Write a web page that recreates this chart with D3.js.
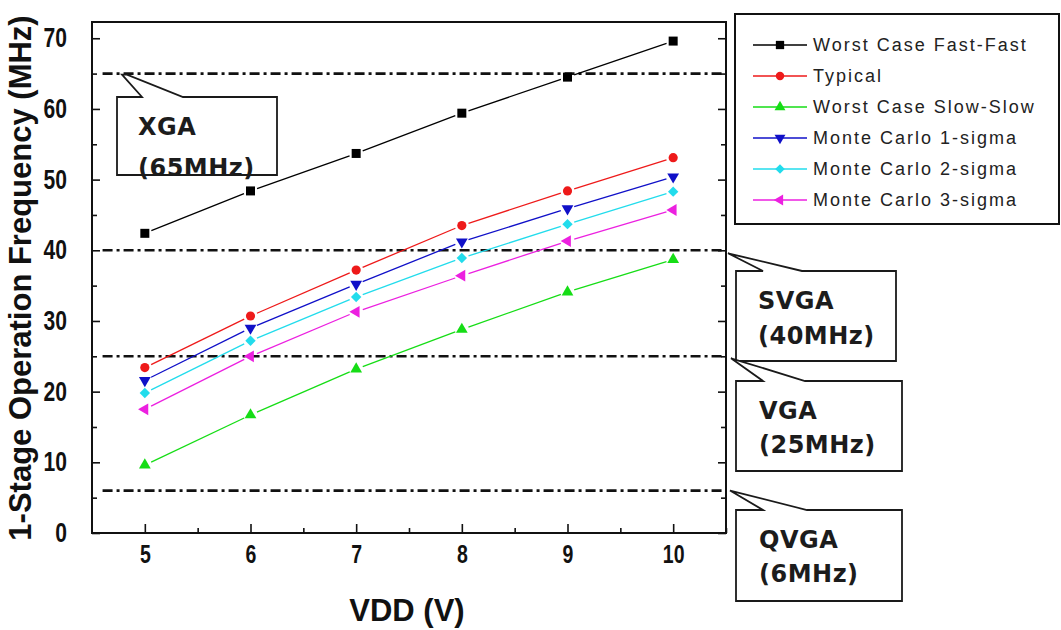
<!DOCTYPE html>
<html>
<head>
<meta charset="utf-8">
<script src="https://cdn.jsdelivr.net/npm/d3@7"></script>
<style>
  html, body { margin: 0; padding: 0; background: #fff; }
  svg { display: block; }
</style>
</head>
<body>
<svg id="chart" width="1061" height="630"></svg>
<script>
// Supply voltage sweep
const vdd = [5, 6, 7, 8, 9, 10];

// One-stage operation frequency (MHz) for each process corner
const fastFast = [42.4, 48.4, 53.7, 59.4, 64.5, 69.6];
const typical  = [23.4, 30.7, 37.2, 43.5, 48.4, 53.1];
const slowSlow = [9.6, 16.7, 23.2, 28.8, 34.1, 38.7];
const mc1Sigma = [21.6, 29.0, 35.2, 41.2, 45.9, 50.4];
const mc2Sigma = [19.8, 27.2, 33.4, 38.9, 43.7, 48.3];
const mc3Sigma = [17.5, 25.0, 31.3, 36.4, 41.3, 45.7];

const seriesNames = [
  "Worst Case Fast-Fast",
  "Typical",
  "Worst Case Slow-Slow",
  "Monte Carlo 1-sigma",
  "Monte Carlo 2-sigma",
  "Monte Carlo 3-sigma"
];
const seriesValues = [fastFast, typical, slowSlow, mc1Sigma, mc2Sigma, mc3Sigma];

// Display-format requirements
const formatNames = ["XGA", "SVGA", "VGA", "QVGA"];
const formatFreq  = [65, 40, 25, 6];
const formatNotes = ["(65MHz)", "(40MHz)", "(25MHz)", "(6MHz)"];

// Axis ticks
const xTicks = [5, 6, 7, 8, 9, 10];
const xMinor = [5.5, 6.5, 7.5, 8.5, 9.5, 10.5];
const yTicks = [0, 10, 20, 30, 40, 50, 60, 70];
const yMinor = [5, 15, 25, 35, 45, 55, 65];

// ---- styling ----
const colors = ["#000000", "#ee1a1a", "#16dd16", "#1010c8", "#22dcec", "#ec20e0"];
const shapes = ["square", "circle", "up", "down", "diamond", "left"];

const svg = d3.select("#chart");
const plot = { left: 92, right: 726, top: 22, bottom: 533 };

const x = d3.scaleLinear().domain([4.5, 10.5]).range([plot.left, plot.right]);
const y = d3.scaleLinear().domain([0, 72.3]).range([plot.bottom, plot.top]);

function symbolPath(shape, scale) {
  const s = scale || 1;
  switch (shape) {
    case "square":  return { d: d3.symbol(d3.symbolSquare, 81 * s)(), rot: 0 };
    case "circle":  return { d: d3.symbol(d3.symbolCircle, 66 * s)(), rot: 0 };
    case "up":      return { d: d3.symbol(d3.symbolTriangle, 60 * s)(), rot: 0 };
    case "down":    return { d: d3.symbol(d3.symbolTriangle, 60 * s)(), rot: 180 };
    case "left":    return { d: d3.symbol(d3.symbolTriangle, 60 * s)(), rot: -90 };
    case "diamond": return { d: d3.symbol(d3.symbolSquare, 54 * s)(), rot: 45 };
  }
}

// ---- frame & axes ----
const axisFont = "'Liberation Sans', Arial, sans-serif";

svg.append("rect")
  .attr("x", plot.left).attr("y", plot.top)
  .attr("width", plot.right - plot.left).attr("height", plot.bottom - plot.top)
  .attr("fill", "none").attr("stroke", "#111").attr("stroke-width", 2);

const gx = svg.append("g").attr("transform", `translate(0,${plot.bottom})`)
  .call(d3.axisBottom(x).tickValues(xTicks).tickSize(-9).tickPadding(12).tickFormat(d3.format("d")));
gx.selectAll("text")
  .attr("font-family", axisFont).attr("font-weight", "bold").attr("font-size", 25).attr("fill", "#111")
  .attr("transform", "scale(0.78,1)");

const gxm = svg.append("g").attr("transform", `translate(0,${plot.bottom})`)
  .call(d3.axisBottom(x).tickValues(xMinor).tickSize(-5).tickFormat(""));

const gy = svg.append("g").attr("transform", `translate(${plot.left},0)`)
  .call(d3.axisLeft(y).tickValues(yTicks).tickSize(-8).tickPadding(25).tickFormat(d3.format("d")));
gy.selectAll("text")
  .attr("font-family", axisFont).attr("font-weight", "bold").attr("font-size", 27).attr("fill", "#111")
  .attr("x", 0).attr("transform", "translate(-25,0) scale(0.78,1)");

const gym = svg.append("g").attr("transform", `translate(${plot.left},0)`)
  .call(d3.axisLeft(y).tickValues(yMinor).tickSize(-5).tickFormat(""));

const gr = svg.append("g").attr("transform", `translate(${plot.right},0)`)
  .call(d3.axisRight(y).tickValues(yTicks).tickSize(-8).tickFormat(""));
const grm = svg.append("g").attr("transform", `translate(${plot.right},0)`)
  .call(d3.axisRight(y).tickValues(yMinor).tickSize(-5).tickFormat(""));

[gx, gxm, gy, gym, gr, grm].forEach(g => {
  g.select(".domain").remove();
  g.selectAll(".tick line").attr("stroke", "#111").attr("stroke-width", 1.6);
});

// axis titles
svg.append("text")
  .attr("x", (plot.left + plot.right) / 2 - 2).attr("y", 621)
  .attr("text-anchor", "middle")
  .attr("font-family", "'Liberation Sans', Arial, sans-serif")
  .attr("font-weight", "bold").attr("font-size", 31).attr("fill", "#111")
  .text("VDD (V)");

svg.append("text")
  .attr("transform", "translate(31,278) rotate(-90)")
  .attr("text-anchor", "middle")
  .attr("font-family", "'Liberation Sans', Arial, sans-serif")
  .attr("font-weight", "bold").attr("font-size", 31).attr("fill", "#111")
  .text("1-Stage Operation Frequency (MHz)");

// ---- format reference lines (dash-dot) ----
const refG = svg.append("g");
formatFreq.forEach(f => {
  refG.append("line")
    .attr("x1", x(4.6)).attr("x2", x(10.5))
    .attr("y1", y(f)).attr("y2", y(f))
    .attr("stroke", "#111").attr("stroke-width", 2.6)
    .attr("stroke-dasharray", "10,4,3,4");
});

// ---- data series ----
const gap = 7;
seriesValues.forEach((vals, si) => {
  const g = svg.append("g");
  const pts = vdd.map((v, i) => [x(v), y(vals[i])]);
  // connecting segments, shortened near each marker
  for (let i = 0; i < pts.length - 1; i++) {
    const [x0, y0] = pts[i], [x1, y1] = pts[i + 1];
    const len = Math.hypot(x1 - x0, y1 - y0);
    const ux = (x1 - x0) / len, uy = (y1 - y0) / len;
    g.append("line")
      .attr("x1", x0 + ux * gap).attr("y1", y0 + uy * gap)
      .attr("x2", x1 - ux * gap).attr("y2", y1 - uy * gap)
      .attr("stroke", colors[si]).attr("stroke-width", 1.3);
  }
  const sym = symbolPath(shapes[si]);
  g.selectAll("path").data(pts).join("path")
    .attr("d", sym.d)
    .attr("transform", d => `translate(${d[0]},${d[1]}) rotate(${sym.rot})`)
    .attr("fill", colors[si]);
});

// ---- callouts ----
const calloutFont = "'DejaVu Sans', Verdana, sans-serif";
const callouts = [
  { box: [117, 97, 277, 175], base: [142, 183], tipDx: [122, 127], tipOff: 1, tx: 138, b1: 38, b2: 79 },
  { box: [736, 271, 896, 361], base: [763, 802], tipDx: [728, 728], tipOff: 3, tx: 758, b1: 38, b2: 73 },
  { box: [736, 381, 902, 471], base: [763, 805], tipDx: [731, 731], tipOff: 2, tx: 759, b1: 38, b2: 72 },
  { box: [736, 510, 902, 601], base: [763, 807], tipDx: [730, 730], tipOff: 0, tx: 759, b1: 38, b2: 72 }
];

callouts.forEach((c, i) => {
  const [x0, y0, x1, y1] = c.box;
  const ty = y(formatFreq[i]) + c.tipOff;
  const p = d3.path();
  p.moveTo(x0, y0);
  p.lineTo(c.base[0], y0);
  p.lineTo(c.tipDx[0], ty);
  p.lineTo(c.tipDx[1], ty);
  p.lineTo(c.base[1], y0);
  p.lineTo(x1, y0);
  p.lineTo(x1, y1);
  p.lineTo(x0, y1);
  p.closePath();
  svg.append("path").attr("d", p.toString())
    .attr("fill", "#fff").attr("stroke", "#1a1a1a").attr("stroke-width", 1.8)
    .attr("stroke-linejoin", "miter");
  const t = svg.append("g")
    .attr("font-family", calloutFont).attr("font-weight", "bold")
    .attr("font-size", 24).attr("fill", "#1c1c1c").attr("letter-spacing", 0.5);
  t.append("text").attr("x", c.tx).attr("y", y0 + c.b1).text(formatNames[i]);
  t.append("text").attr("x", c.tx).attr("y", y0 + c.b2).text(formatNotes[i]);
});

// ---- legend ----
const legend = svg.append("g");
legend.append("rect")
  .attr("x", 735).attr("y", 14).attr("width", 324).attr("height", 210)
  .attr("fill", "#fff").attr("stroke", "#111").attr("stroke-width", 2);

seriesNames.forEach((name, i) => {
  const ry = 45 + i * 31;
  const g = legend.append("g");
  g.append("line").attr("x1", 753).attr("x2", 807).attr("y1", ry).attr("y2", ry)
    .attr("stroke", colors[i]).attr("stroke-width", 1.6);
  const sym = symbolPath(shapes[i], 0.85);
  g.append("path").attr("d", sym.d)
    .attr("transform", `translate(780,${ry}) rotate(${sym.rot})`)
    .attr("fill", colors[i]);
  g.append("text").attr("x", 813).attr("y", ry).attr("dy", "0.36em")
    .attr("font-family", "'Liberation Sans', Arial, sans-serif")
    .attr("font-size", 18).attr("letter-spacing", 2).attr("fill", "#222")
    .text(name);
});
</script>
</body>
</html>
